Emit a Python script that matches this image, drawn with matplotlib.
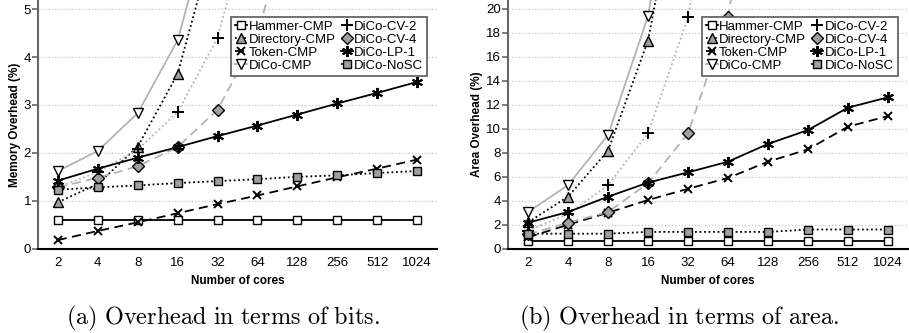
import numpy as np
import matplotlib
matplotlib.use('Agg')
import matplotlib.pyplot as plt

plt.rcParams['font.family'] = ['Liberation Sans', 'DejaVu Sans']
plt.rcParams['mathtext.fontset'] = 'cm'

# Data
cores = ['2', '4', '8', '16', '32', '64', '128', '256', '512', '1024']
x = np.arange(len(cores))

# (a) memory overhead (%)
mem_hammer = [0.6] * 10
mem_directory = [0.97, 1.35, 2.13, 3.65, 6.7]
mem_token = [0.18, 0.37, 0.55, 0.74, 0.93, 1.11, 1.30, 1.49, 1.67, 1.86]
mem_dico = [1.62, 2.04, 2.83, 4.35, 7.4]
mem_cv2 = [1.28, 1.60, 2.07, 2.85, 4.40, 7.5]
mem_cv4 = [1.28, 1.48, 1.72, 2.12, 2.90, 4.45, 7.55]
mem_lp1 = [1.42, 1.67, 1.90, 2.12, 2.35, 2.57, 2.80, 3.03, 3.25, 3.48]
mem_nosc = [1.23, 1.28, 1.32, 1.37, 1.41, 1.45, 1.50, 1.53, 1.58, 1.62]

# (b) area overhead (%)
area_hammer = [0.6] * 10
area_directory = [2.2, 4.34, 8.18, 17.36, 35.0]
area_token = [0.95, 2.0, 3.0, 4.06, 5.0, 5.9, 7.26, 8.29, 10.18, 11.07]
area_dico = [3.06, 5.3, 9.49, 19.4, 39.0]
area_cv2 = [1.5, 2.9, 5.3, 9.63, 19.3, 39.0]
area_cv4 = [1.2, 2.17, 3.06, 5.45, 9.63, 19.36, 39.0]
area_lp1 = [2.17, 3.06, 4.34, 5.51, 6.37, 7.26, 8.74, 9.9, 11.77, 12.63]
area_nosc = [1.25, 1.25, 1.25, 1.4, 1.4, 1.4, 1.4, 1.6, 1.6, 1.6]

LGRAY = '#b3b3b3'
MGRAY = '#a0a0a0'

# name, line colour, linestyle, marker, marker face, marker size
STYLES = [
    ('Hammer-CMP', 'black', '-', 's', 'white', 6),
    ('Directory-CMP', 'black', (0, (1, 1.5)), '^', MGRAY, 7),
    ('Token-CMP', 'black', (0, (5, 3)), 'x', 'none', 6),
    ('DiCo-CMP', LGRAY, '-', 'v', 'white', 7),
    ('DiCo-CV-2', LGRAY, (0, (1, 1.5)), '+', 'none', 8),
    ('DiCo-CV-4', LGRAY, (0, (5, 3)), 'D', MGRAY, 6),
    ('DiCo-LP-1', 'black', '-', (6, 2, 0), 'black', 8),
    ('DiCo-NoSC', 'black', (0, (1, 1.5)), 's', MGRAY, 6),
]


def drawPanel(ax, series, ymax, yticks, ylabel):
    for (name, col, ls, mk, mfc, ms), ys in zip(STYLES, series):
        ax.plot(x[:len(ys)], ys, color=col, linestyle=ls, linewidth=1.3,
                marker=mk, markersize=ms, markerfacecolor=mfc,
                markeredgecolor='black', markeredgewidth=1.0 if mk not in ('+', 'x', (6, 2, 0)) else 1.4,
                label=name, clip_on=True)
    ax.set_xlim(-0.5, 9.5)
    ax.set_ylim(0, ymax)
    ax.set_xticks(x)
    ax.set_xticklabels(cores)
    ax.set_yticks(yticks)
    ax.grid(axis='y', linestyle=(0, (1, 2)), color='#bbbbbb', linewidth=0.8)
    ax.set_axisbelow(True)
    for s in ('top', 'right'):
        ax.spines[s].set_visible(False)
    ax.spines['bottom'].set_linewidth(1.5)
    ax.spines['left'].set_linewidth(1.5)
    ax.spines['left'].set_color('#666666')
    ax.tick_params(axis='x', length=0, labelsize=9.5, pad=6)
    ax.tick_params(axis='y', length=4, width=1.2, color='#666666', labelsize=9.5, pad=1)
    ax.set_xlabel('Number of cores', fontsize=8.5, fontweight='bold', labelpad=4)
    ax.set_ylabel(ylabel, fontsize=8.5, fontweight='bold', labelpad=2)
    leg = ax.legend(ncol=2, loc='upper left', bbox_to_anchor=(0.485, 0.932),
                    borderaxespad=0, fontsize=9.5, handlelength=0.9,
                    handletextpad=0.1, columnspacing=0.4, labelspacing=0.05,
                    borderpad=0.3, fancybox=False, framealpha=1,
                    edgecolor='#666666')
    leg.get_frame().set_linewidth(1.3)
    leg.set_zorder(10)


fig = plt.figure(figsize=(9.09, 3.33), dpi=100)
ax1 = fig.add_axes([0.0418, 0.2532, 0.4389, 0.7468])
ax2 = fig.add_axes([0.5589, 0.2532, 0.4400, 0.7468])

drawPanel(ax1, [mem_hammer, mem_directory, mem_token, mem_dico, mem_cv2,
                mem_cv4, mem_lp1, mem_nosc],
          5.19, [0, 1, 2, 3, 4, 5], 'Memory Overhead (%)')
drawPanel(ax2, [area_hammer, area_directory, area_token, area_dico, area_cv2,
                area_cv4, area_lp1, area_nosc],
          20.75, list(range(0, 21, 2)), 'Area Overhead (%)')

fig.text(0.245, 0.045, r'$\mathrm{(a)\ Overhead\ in\ terms\ of\ bits.}$',
         ha='center', va='center', fontsize=17.5)
fig.text(0.747, 0.045, r'$\mathrm{(b)\ Overhead\ in\ terms\ of\ area.}$',
         ha='center', va='center', fontsize=17.5)

fig.savefig('out.png', dpi=100)
plt.close(fig)
